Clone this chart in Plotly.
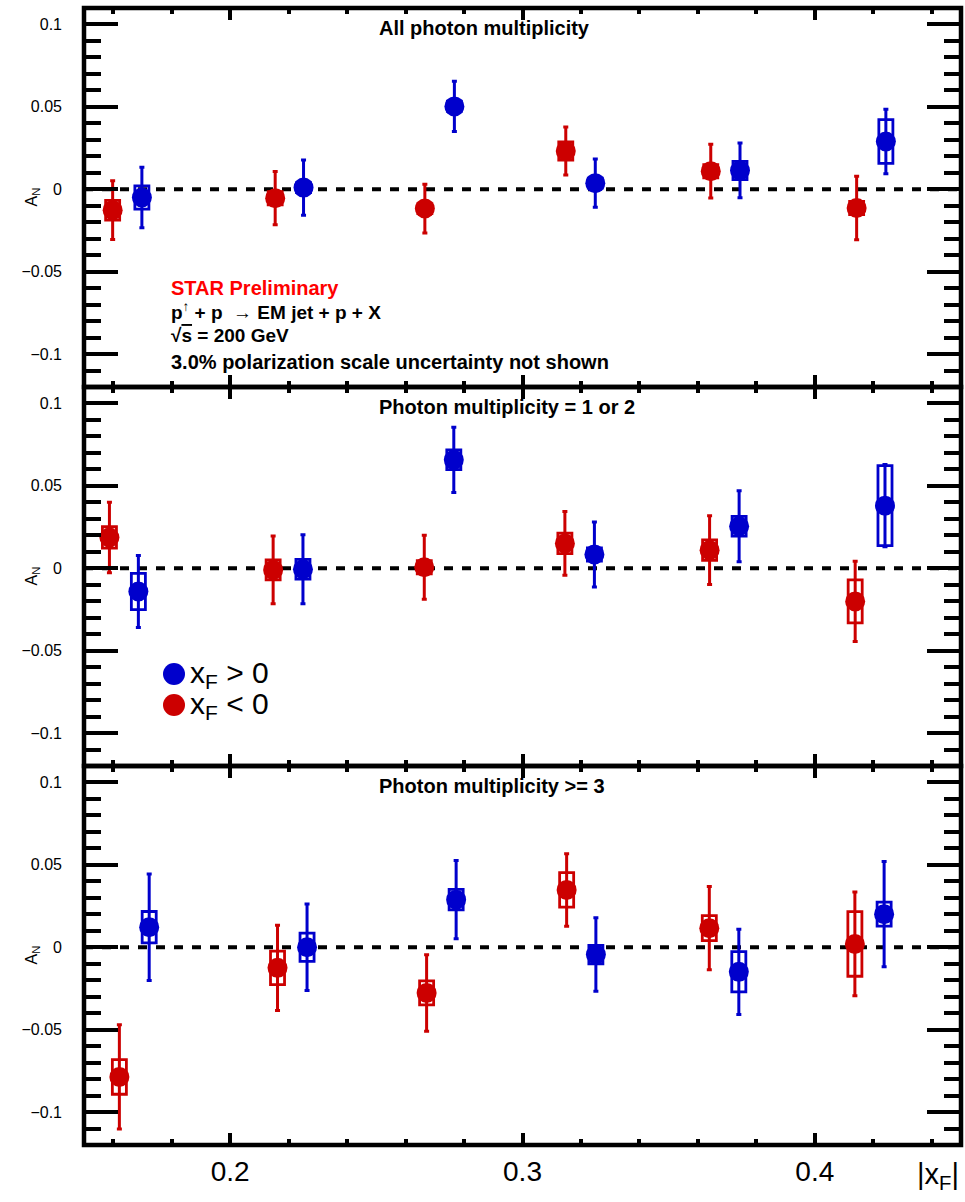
import plotly.graph_objects as go
from plotly.subplots import make_subplots

# ---------------- data ----------------
panel_titles = ["All photon multiplicity", "Photon multiplicity = 1 or 2", "Photon multiplicity &gt;= 3"]

# Panel 1: all photon multiplicity
p1_blue_x = [0.1698, 0.2251, 0.2767, 0.3249, 0.3744, 0.4243]
p1_blue_y = [-0.0050, 0.0010, 0.0503, 0.0037, 0.0114, 0.0290]
p1_blue_stat = [0.0183, 0.0167, 0.0152, 0.0146, 0.0166, 0.0196]
p1_blue_sys = [0.0070, 0.0030, 0.0030, 0.0030, 0.0055, 0.0133]
p1_red_x = [0.1598, 0.2154, 0.2666, 0.3148, 0.3644, 0.4143]
p1_red_y = [-0.0127, -0.0054, -0.0117, 0.0232, 0.0110, -0.0114]
p1_red_stat = [0.0178, 0.0162, 0.0148, 0.0146, 0.0163, 0.0193]
p1_red_sys = [0.0060, 0.0040, 0.0030, 0.0055, 0.0040, 0.0040]

# Panel 2: photon multiplicity = 1 or 2
p2_blue_x = [0.1686, 0.2249, 0.2765, 0.3246, 0.3741, 0.4240]
p2_blue_y = [-0.0141, -0.0006, 0.0658, 0.0084, 0.0255, 0.0380]
p2_blue_stat = [0.0219, 0.0210, 0.0198, 0.0197, 0.0215, 0.0250]
p2_blue_sys = [0.0110, 0.0060, 0.0060, 0.0040, 0.0060, 0.0243]
p2_red_x = [0.1587, 0.2147, 0.2664, 0.3145, 0.3640, 0.4138]
p2_red_y = [0.0187, -0.0010, 0.0006, 0.0151, 0.0110, -0.0201]
p2_red_stat = [0.0214, 0.0206, 0.0194, 0.0193, 0.0209, 0.0243]
p2_red_sys = [0.0065, 0.0060, 0.0040, 0.0062, 0.0062, 0.0130]

# Panel 3: photon multiplicity >= 3
p3_blue_x = [0.1723, 0.2263, 0.2773, 0.3251, 0.3740, 0.4237]
p3_blue_y = [0.0122, 0.0000, 0.0289, -0.0044, -0.0149, 0.0201]
p3_blue_stat = [0.0323, 0.0263, 0.0237, 0.0223, 0.0259, 0.0320]
p3_blue_sys = [0.0095, 0.0086, 0.0062, 0.0056, 0.0122, 0.0073]
p3_red_x = [0.1621, 0.2162, 0.2672, 0.3151, 0.3639, 0.4137]
p3_red_y = [-0.0787, -0.0125, -0.0277, 0.0348, 0.0116, 0.0020]
p3_red_stat = [0.0316, 0.0259, 0.0232, 0.0220, 0.0253, 0.0315]
p3_red_sys = [0.0105, 0.0102, 0.0073, 0.0105, 0.0076, 0.0196]

y_tickvals = [-0.1, -0.05, 0, 0.05, 0.1]
y_ticktext = ["\u22120.1", "\u22120.05", "0", "0.05", "0.1"]
x_tickvals = [0.2, 0.3, 0.4]
x_ticktext = ["0.2", "0.3", "0.4"]

BLUE = "#0000cc"
RED = "#cc0000"
FONT = "Liberation Sans, Arial, Helvetica, sans-serif"
SYS_HALF_W = 0.0024

panels = [
    (p1_blue_x, p1_blue_y, p1_blue_stat, p1_blue_sys, p1_red_x, p1_red_y, p1_red_stat, p1_red_sys),
    (p2_blue_x, p2_blue_y, p2_blue_stat, p2_blue_sys, p2_red_x, p2_red_y, p2_red_stat, p2_red_sys),
    (p3_blue_x, p3_blue_y, p3_blue_stat, p3_blue_sys, p3_red_x, p3_red_y, p3_red_stat, p3_red_sys),
]

fig = make_subplots(rows=3, cols=1, shared_xaxes=True, vertical_spacing=0)

shapes = []
annotations = []
for i, (bx, by, bst, bsy, rx, ry, rst, rsy) in enumerate(panels):
    row = i + 1
    yref = "y" if row == 1 else f"y{row}"
    xref = "x" if row == 1 else f"x{row}"
    # systematic boxes
    for xs, ys, ss, col in ((rx, ry, rsy, RED), (bx, by, bsy, BLUE)):
        for xv, yv, sv in zip(xs, ys, ss):
            shapes.append(dict(type="rect", xref=xref, yref=yref,
                               x0=xv - SYS_HALF_W, x1=xv + SYS_HALF_W,
                               y0=yv - sv, y1=yv + sv,
                               line=dict(color=col, width=2.8), fillcolor="rgba(0,0,0,0)",
                               layer="below"))
    # zero line
    shapes.append(dict(type="line", xref=f"{xref} domain", yref=yref, x0=0, x1=1, y0=0, y1=0,
                       line=dict(color="black", width=4, dash="9px,9px"), layer="below"))
    # frame
    shapes.append(dict(type="rect", xref=f"{xref} domain", yref=f"{yref} domain", x0=0, x1=1, y0=0, y1=1,
                       line=dict(color="black", width=4.5), layer="above"))
    for xs, ys, es, col, name in ((rx, ry, rst, RED, "x<sub>F</sub> &lt; 0"),
                                  (bx, by, bst, BLUE, "x<sub>F</sub> &gt; 0")):
        fig.add_trace(go.Scatter(
            x=xs, y=ys, mode="markers", name=name, showlegend=False,
            marker=dict(color=col, size=20, symbol="circle", line=dict(width=0)),
            error_y=dict(type="data", array=es, visible=True, color=col, thickness=3, width=2.5),
        ), row=row, col=1)
    # panel title
    annotations.append(dict(text=f"<b>{panel_titles[i]}</b>", xref="paper", yref=f"{yref} domain",
                            x=(377 - 84) / 877, y=1 - 20 / 379, xanchor="left", yanchor="middle",
                            showarrow=False, font=dict(size=20, color="black", family=FONT)))
    # y title
    annotations.append(dict(text="A<sub>N</sub>", xref="paper", yref=f"{yref} domain",
                            x=(32 - 84) / 877, y=0.5, xanchor="center", yanchor="middle",
                            textangle=-90, showarrow=False,
                            font=dict(size=16, color="black", family=FONT)))

    fig.update_yaxes(range=[-0.12, 0.11], tickvals=y_tickvals, ticktext=y_ticktext,
                     ticks="inside", ticklen=34, tickwidth=3.5, tickcolor="black",
                     minor=dict(ticks="inside", ticklen=17, tickwidth=3.5, tickcolor="black",
                                dtick=0.01, tick0=0),
                     mirror="ticks", showline=False, showgrid=False, zeroline=False,
                     ticklabelstandoff=21,
                     tickfont=dict(size=16, color="black", family=FONT), row=row, col=1)
    fig.update_xaxes(range=[0.15, 0.45], tickvals=x_tickvals, ticktext=x_ticktext,
                     ticks="inside", ticklen=12, tickwidth=3.5, tickcolor="black",
                     minor=dict(ticks="inside", ticklen=6, tickwidth=3.5, tickcolor="black",
                                dtick=0.02, tick0=0),
                     mirror="ticks", showline=False, showgrid=False, zeroline=False,
                     showticklabels=(row == 3), ticklabelstandoff=7,
                     tickfont=dict(size=28, color="black", family=FONT), row=row, col=1)

# text block in panel 1
info_lines = [
    ("<b>STAR Preliminary</b>", "#ff0000", 20, 288),
    ("<b>p<sup>\u2191</sup> + p  \u2192 EM jet + p + X</b>", "black", 19, 311),
    ("<b>\u221a<span style='text-decoration:overline'>s</span> = 200 GeV</b>", "black", 19, 335),
    ("<b>3.0% polarization scale uncertainty not shown</b>", "black", 20, 362),
]
for txt, col, fs, ypx in info_lines:
    annotations.append(dict(text=txt, xref="paper", yref="y domain",
                            x=(169 - 84) / 877, y=(387 - ypx) / 379, xanchor="left", yanchor="middle",
                            showarrow=False, font=dict(size=fs, color=col, family=FONT)))

# legend (drawn in panel 2)
legend_items = [("x<sub>F</sub> &gt; 0", BLUE, 674), ("x<sub>F</sub> &lt; 0", RED, 705)]
for txt, col, ypx in legend_items:
    yy = (766 - ypx) / 379
    xx = (174 - 84) / 877
    shapes.append(dict(type="circle", xref="x2 domain", yref="y2 domain", xsizemode="pixel", ysizemode="pixel",
                       xanchor=xx, yanchor=yy, x0=-11, x1=11, y0=-11, y1=11,
                       fillcolor=col, line=dict(color=col, width=0)))
    annotations.append(dict(text=txt, xref="x2 domain", yref="y2 domain", x=(188 - 84) / 877, y=yy,
                            xanchor="left", yanchor="middle", showarrow=False,
                            font=dict(size=30, color="black", family=FONT)))

# x axis title
annotations.append(dict(text="|x<sub>F</sub>|", xref="paper", yref="paper", x=1.0, y=-(1156 - 1145) / 1137,
                        xanchor="right", yanchor="top", showarrow=False,
                        font=dict(size=29, color="black", family=FONT)))

fig.update_layout(width=965, height=1202, margin=dict(l=84, r=4, t=8, b=57),
                  plot_bgcolor="white", paper_bgcolor="white", showlegend=False,
                  shapes=shapes, annotations=annotations)

fig.write_html("out.html")
